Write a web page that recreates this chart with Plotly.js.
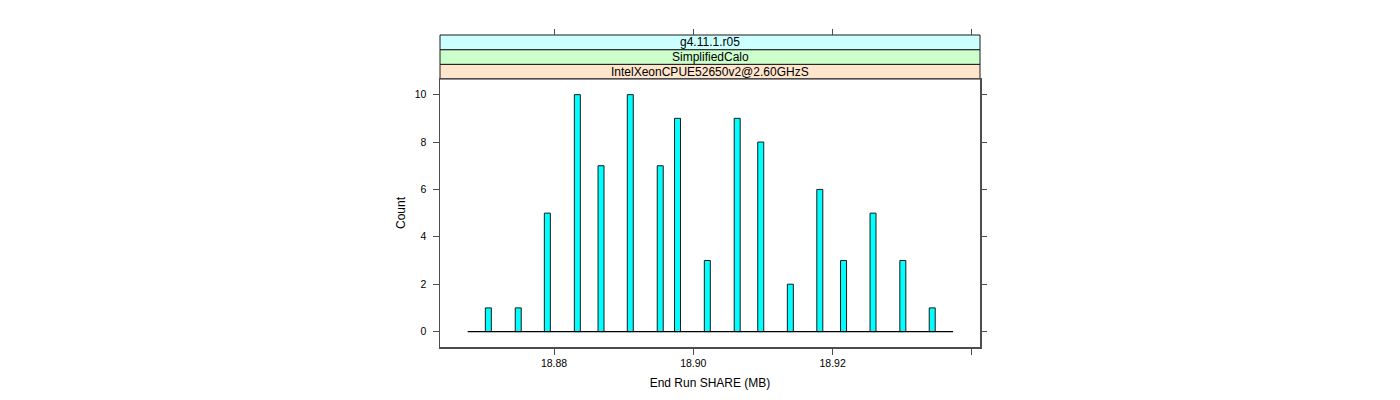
<!DOCTYPE html>
<html>
<head>
<meta charset="utf-8">
<script src="https://cdn.plot.ly/plotly-3.0.1.min.js"></script>
<style>html,body{margin:0;padding:0;background:#fff;}#chart{width:1400px;height:400px;}</style>
</head>
<body>
<div id="chart"></div>
<script>
// Histogram bins (MB) and counts
const binCenters = [18.87057, 18.87486, 18.87904, 18.88335, 18.88675, 18.89095, 18.89525, 18.89773, 18.90201, 18.90630, 18.90968, 18.91393, 18.91816, 18.92157, 18.92580, 18.93008, 18.93430];
const counts = [1, 1, 5, 10, 7, 10, 7, 9, 3, 9, 8, 2, 6, 3, 5, 3, 1];
const binWidth = 0.000861;
const breaksRange = [18.8676, 18.9373];
const xTickVals = [18.88, 18.90, 18.92, 18.94];
const xTickText = ["18.88", "18.90", "18.92", ""];
const yTickVals = [0, 2, 4, 6, 8, 10];
const stripLabels = ["IntelXeonCPUE52650v2@2.60GHzS", "SimplifiedCalo", "g4.11.1.r05"];
const stripColors = ["#ffe5cc", "#ccffcc", "#ccffff"];

const xRange = [18.86363, 18.94116];
const yRange = [-0.65, 10.66];
const lineCol = "#4d4d4d";
const font = {family: "Liberation Sans, Arial, sans-serif", size: 12, color: "#000"};

const traces = [
  {
    type: "scatter", mode: "lines", x: breaksRange, y: [0, 0],
    line: {color: "#000", width: 1.2}, hoverinfo: "skip", showlegend: false
  },
  {
    type: "bar", x: binCenters, y: counts,
    width: binCenters.map(() => binWidth),
    marker: {color: "#00ffff", line: {color: "#1a1a1a", width: 1}},
    showlegend: false
  },
  {
    type: "scatter", mode: "markers", x: [xRange[0]], y: [yRange[0]],
    xaxis: "x2", yaxis: "y2", marker: {opacity: 0}, hoverinfo: "skip", showlegend: false
  }
];

const plotTop = 35, panelTop = 79, panelBottom = 347;
const plotH = panelBottom - plotTop;
const yTopFrac = (panelBottom - panelTop) / plotH;

const shapes = [];
const annotations = [];
const stripH = (1 - yTopFrac) / stripLabels.length;
stripLabels.forEach((lab, i) => {
  const y0 = yTopFrac + i * stripH, y1 = y0 + stripH;
  shapes.push({type: "rect", xref: "paper", yref: "paper", x0: 0, x1: 1, y0: y0, y1: y1,
    fillcolor: stripColors[i], line: {color: "#1a1a1a", width: 1}, layer: "below"});
  annotations.push({xref: "paper", yref: "paper", x: 0.5, y: (y0 + y1) / 2, text: lab,
    showarrow: false, font: {family: font.family, size: 12, color: "#000"}, xanchor: "center", yanchor: "middle"});
});

const layout = {
  width: 1400, height: 400,
  margin: {l: 440, r: 420, t: plotTop, b: 400 - panelBottom, pad: 0},
  paper_bgcolor: "#fff", plot_bgcolor: "#fff",
  font: font,
  bargap: 0,
  xaxis: {
    range: xRange, tickvals: xTickVals, ticktext: xTickText,
    ticks: "outside", ticklen: 6, tickcolor: lineCol, tickwidth: 1,
    showline: true, linecolor: lineCol, linewidth: 1.5, mirror: true,
    showgrid: false, zeroline: false, tickfont: {family: font.family, size: 10.5},
    title: {text: "End Run SHARE (MB)", font: {family: font.family, size: 12}, standoff: 10},
    anchor: "y"
  },
  yaxis: {
    range: yRange, domain: [0, yTopFrac], tickvals: yTickVals,
    ticks: "outside", ticklen: 6, tickcolor: lineCol, tickwidth: 1,
    showline: true, linecolor: lineCol, linewidth: 1.5, mirror: true,
    showgrid: false, zeroline: false, tickfont: {family: font.family, size: 10.5},
    ticklabelstandoff: 4,
    title: {text: "Count", font: {family: font.family, size: 12}, standoff: 6},
    anchor: "x"
  },
  xaxis2: {
    range: xRange, tickvals: xTickVals, overlaying: "x", side: "top",
    anchor: "free", position: 1,
    ticks: "outside", ticklen: 6, tickcolor: lineCol, tickwidth: 1,
    showticklabels: false, showline: false, showgrid: false, zeroline: false
  },
  yaxis2: {
    range: yRange, domain: [0, yTopFrac], tickvals: yTickVals, overlaying: "y", side: "right",
    anchor: "x",
    ticks: "outside", ticklen: 6, tickcolor: lineCol, tickwidth: 1,
    showticklabels: false, showline: false, showgrid: false, zeroline: false
  },
  shapes: shapes,
  annotations: annotations
};

Plotly.newPlot("chart", traces, layout, {displayModeBar: false, staticPlot: true});
</script>
</body>
</html>
